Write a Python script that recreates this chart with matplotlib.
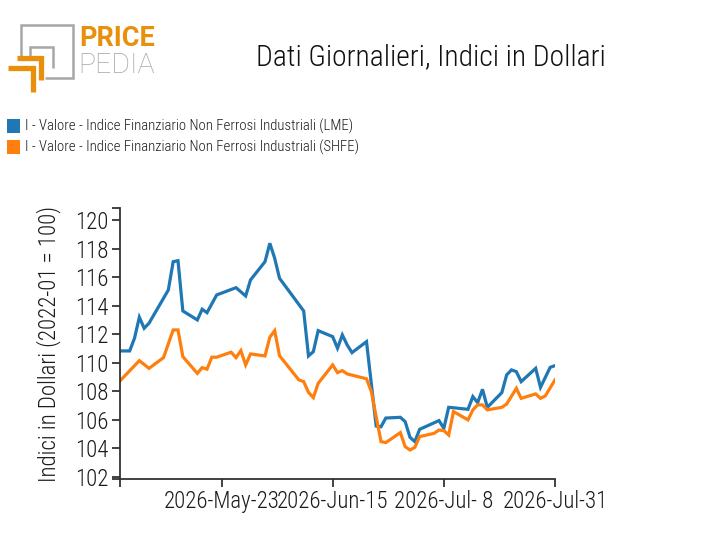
import matplotlib
matplotlib.use("Agg")
import matplotlib.pyplot as plt
from matplotlib.lines import Line2D
from matplotlib.patches import Rectangle
import pandas as pd

# LME series
lme_dates = ["2026-05-02", "2026-05-04", "2026-05-05", "2026-05-06", "2026-05-07", "2026-05-08",
             "2026-05-12", "2026-05-13", "2026-05-14", "2026-05-15", "2026-05-18", "2026-05-19",
             "2026-05-20", "2026-05-22", "2026-05-26", "2026-05-28", "2026-05-29", "2026-06-01",
             "2026-06-02", "2026-06-03", "2026-06-04", "2026-06-09", "2026-06-10", "2026-06-11",
             "2026-06-12", "2026-06-15", "2026-06-16", "2026-06-17", "2026-06-18", "2026-06-19",
             "2026-06-22", "2026-06-24", "2026-06-25", "2026-06-26", "2026-06-29", "2026-06-30",
             "2026-07-01", "2026-07-02", "2026-07-03", "2026-07-07", "2026-07-08", "2026-07-09",
             "2026-07-10", "2026-07-13", "2026-07-14", "2026-07-15", "2026-07-16", "2026-07-17",
             "2026-07-20", "2026-07-21", "2026-07-22", "2026-07-23", "2026-07-24", "2026-07-27",
             "2026-07-28", "2026-07-30", "2026-07-31"]
lme_values = [110.83, 110.83, 111.72, 113.19, 112.42, 112.77,
              115.10, 117.08, 117.15, 113.63, 113.00, 113.75,
              113.51, 114.75, 115.26, 114.68, 115.80, 117.08,
              118.37, 117.32, 115.92, 113.63, 110.48, 110.78,
              112.25, 111.83, 111.02, 111.95, 111.25, 110.71,
              111.48, 105.57, 105.52, 106.13, 106.18, 105.88,
              104.78, 104.48, 105.34, 105.95, 105.41, 106.88,
              106.85, 106.74, 107.63, 107.21, 108.14, 106.88,
              107.91, 109.15, 109.50, 109.38, 108.68, 109.61,
              108.28, 109.68, 109.80]

# SHFE series
shfe_dates = ["2026-05-02", "2026-05-06", "2026-05-08", "2026-05-11", "2026-05-13", "2026-05-14",
              "2026-05-15", "2026-05-18", "2026-05-19", "2026-05-20", "2026-05-21", "2026-05-22",
              "2026-05-25", "2026-05-26", "2026-05-27", "2026-05-28", "2026-05-29", "2026-06-01",
              "2026-06-02", "2026-06-03", "2026-06-04", "2026-06-08", "2026-06-09", "2026-06-10",
              "2026-06-11", "2026-06-12", "2026-06-15", "2026-06-16", "2026-06-17", "2026-06-18",
              "2026-06-22", "2026-06-23", "2026-06-25", "2026-06-26", "2026-06-29", "2026-06-30",
              "2026-07-01", "2026-07-02", "2026-07-03", "2026-07-06", "2026-07-07", "2026-07-08",
              "2026-07-09", "2026-07-10", "2026-07-13", "2026-07-14", "2026-07-15", "2026-07-16",
              "2026-07-17", "2026-07-20", "2026-07-21", "2026-07-23", "2026-07-24", "2026-07-27",
              "2026-07-28", "2026-07-29", "2026-07-31"]
shfe_values = [108.73, 110.15, 109.61, 110.36, 112.30, 112.30,
               110.43, 109.26, 109.66, 109.55, 110.39, 110.39,
               110.74, 110.36, 110.85, 109.85, 110.62, 110.48,
               111.79, 112.25, 110.50, 108.80, 108.68, 107.93,
               107.56, 108.56, 109.85, 109.31, 109.45, 109.22,
               108.88, 107.98, 104.48, 104.41, 105.11, 104.13,
               103.89, 104.08, 104.83, 105.06, 105.29, 105.25,
               104.94, 106.58, 106.00, 106.70, 107.05, 107.05,
               106.70, 106.88, 107.11, 108.21, 107.51, 107.82,
               107.51, 107.68, 108.80]

series_names = ["I - Valore - Indice Finanziario Non Ferrosi Industriali (LME)",
                "I - Valore - Indice Finanziario Non Ferrosi Industriali (SHFE)"]
series_colors = ["#1f77b4", "#ff7f0e"]

tick_dates = ["2026-05-23", "2026-06-15", "2026-07-08", "2026-07-31"]
tick_labels = ["2026-May-23", "2026-Jun-15", "2026-Jul- 8", "2026-Jul-31"]
y_ticks = list(range(102, 121, 2))

plt.rcParams["font.family"] = ["Roboto Condensed", "Roboto", "DejaVu Sans"]
txt = "#1a1a1a"

W, H = 712, 555
fig = plt.figure(figsize=(W / 100, H / 100), dpi=100)

# plot area in pixels: x 120..555, y 208..479
ax = fig.add_axes([120 / W, 1 - 479 / H, 435 / W, 271 / H])

ax.plot(pd.to_datetime(lme_dates), lme_values, color=series_colors[0], lw=2.3, solid_joinstyle="miter")
ax.plot(pd.to_datetime(shfe_dates), shfe_values, color=series_colors[1], lw=2.3, solid_joinstyle="miter")

ax.set_xlim(pd.Timestamp("2026-05-02"), pd.Timestamp("2026-07-31"))
ax.set_ylim(101.86, 120.84)

ax.set_xticks(pd.to_datetime(tick_dates))
ax.set_xticklabels(tick_labels)
ax.set_xticks([pd.Timestamp("2026-05-02")], minor=True)
ax.set_yticks(y_ticks)
ax.set_yticks([101.86, 120.84], minor=True)

for s in ["top", "right"]:
    ax.spines[s].set_visible(False)
for s in ["left", "bottom"]:
    ax.spines[s].set_color("#333333")
    ax.spines[s].set_linewidth(1.3)

ax.tick_params(axis="both", which="both", length=6, width=1.3, color="#333333",
               labelsize=16.5, labelcolor=txt, pad=2)
for lab in ax.get_xticklabels() + ax.get_yticklabels():
    lab.set_fontweight("light")

ax.set_ylabel("Indici in Dollari (2022-01 = 100)", fontsize=16.5, fontweight="light",
              color=txt, labelpad=10)

# title
fig.text(431 / W, 1 - 57 / H, "Dati Giornalieri, Indici in Dollari", fontsize=21.3,
         fontweight="light", ha="center", va="center", color="#111111")

# legend
for i, (name, col) in enumerate(zip(series_names, series_colors)):
    yc = 126 + i * 21
    fig.patches.append(Rectangle((7 / W, 1 - (yc + 7) / H), 13 / W, 14 / H,
                                 transform=fig.transFigure, facecolor=col, edgecolor="none"))
    fig.text(25 / W, 1 - yc / H, name, fontsize=10.6, fontweight="light",
             ha="left", va="center", color=txt)

# logo
gray = "#a6a6a6"
orange = "#e8900c"


def px_line(xs, ys, color, lw):
    fig.lines.append(Line2D([x / W for x in xs], [1 - y / H for y in ys],
                            transform=fig.transFigure, color=color, lw=lw,
                            solid_capstyle="butt", solid_joinstyle="miter"))


px_line([21, 21, 73, 73, 45], [57, 25, 25, 78, 78], gray, 1.8)
px_line([30, 30, 53, 53], [57, 47, 47, 68], gray, 1.8)
px_line([17, 41, 41], [58, 58, 80], orange, 3.8)
px_line([8, 33, 33], [68, 68, 92], orange, 3.8)

fig.text(79 / W, 1 - 39 / H, "PRICE", fontsize=19.5, fontweight="bold",
         family=["Roboto", "DejaVu Sans"], color=orange, ha="left", va="center")
fig.text(78 / W, 1 - 65.5 / H, "PEDIA", fontsize=20.5, fontweight="light",
         family=["Roboto", "DejaVu Sans"], color=gray, ha="left", va="center")

fig.savefig("out.png", dpi=100)
